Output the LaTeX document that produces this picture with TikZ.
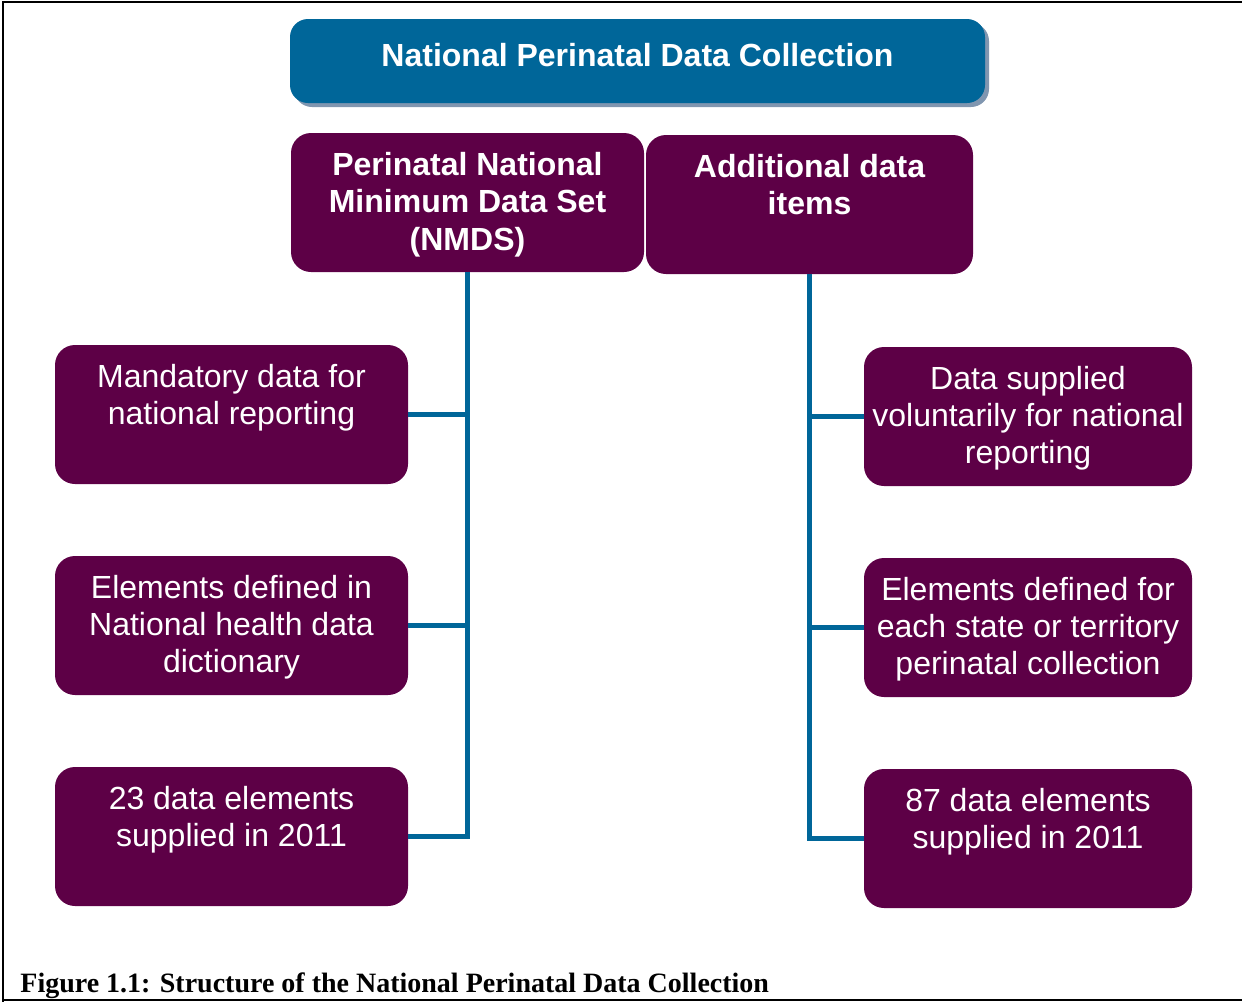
\documentclass[tikz,border=0pt]{standalone}
\usepackage{fontspec}
\setmainfont{Liberation Sans}
\newfontfamily\capfont{Liberation Serif}
\usetikzlibrary{positioning,shadows}
\definecolor{plum}{RGB}{93,0,70}
\definecolor{ndcblue}{RGB}{0,102,153}
\definecolor{shadowblue}{RGB}{128,150,176}

\begin{document}
\begin{tikzpicture}[x=0.5pt,y=-0.5pt,line join=miter,
  every node/.style={inner sep=0pt,text=white,align=center},
  box/.style={fill=plum,rounded corners=10pt,minimum height=69.5pt},
  leftbox/.style={box,minimum width=176.5pt},
  rightbox/.style={box,minimum width=164pt},
  link/.style={draw=ndcblue,line width=2.5pt},
  lbl/.style={font=\fontsize{16}{18.6}\selectfont},
  hd/.style={font=\fontsize{16}{18.75}\selectfont\bfseries}]
  \useasboundingbox (0,0) rectangle (1242,1002);
  % 外框
  \draw[line width=0.7pt] (1242,2) -- (3,2) -- (3,1002);
  \draw[line width=0.7pt] (3,1000) -- (1242,1000);
  % 顶部标题
  \node[fill=ndcblue,rounded corners=9pt,minimum width=347.5pt,minimum height=42pt,
    text depth=6pt,hd,drop shadow={shadow xshift=2pt,shadow yshift=-2pt,fill=shadowblue,opacity=1}]
    (ndc) at (637.5,61) {National Perinatal Data Collection};
  % 第二层
  \node[box,minimum width=176.5pt] (nmds) at (467.5,202.5) {};
  \node[hd,below=9.5pt of nmds.north] (nmdstxt) {Perinatal National\\Minimum Data Set\\(NMDS)};
  \node[box,minimum width=163.5pt] (extra) at (809.5,204.5) {};
  \node[hd,below=9.5pt of extra.north] (extratxt) {Additional data\\items};
  % 左列
  \node[leftbox] (left1) at (231.5,414.5) {};
  \node[lbl,below=9.5pt of left1.north] (left1txt) {Mandatory data for\\national reporting};
  \node[leftbox] (left2) at (231.5,625.5) {};
  \node[lbl,below=9.5pt of left2.north] (left2txt) {Elements defined in\\National health data\\dictionary};
  \node[leftbox] (left3) at (231.5,836.5) {};
  \node[lbl,below=9.5pt of left3.north] (left3txt) {23 data elements\\supplied in 2011};
  % 右列
  \node[rightbox] (right1) at (1028,416.5) {};
  \node[lbl,below=9.5pt of right1.north] (right1txt) {Data supplied\\voluntarily for national\\reporting};
  \node[rightbox] (right2) at (1028,627.5) {};
  \node[lbl,below=9.5pt of right2.north] (right2txt) {Elements defined for\\each state or territory\\perinatal collection};
  \node[rightbox] (right3) at (1028,838.5) {};
  \node[lbl,below=9.5pt of right3.north] (right3txt) {87 data elements\\supplied in 2011};
  % 连线
  \draw[link] (nmds.south) -- (nmds.south |- left3.east) -- (left3.east);
  \draw[link] (left1.east) -- (left1.east -| nmds.south);
  \draw[link] (left2.east) -- (left2.east -| nmds.south);
  \draw[link] (extra.south) -- (extra.south |- right3.west) -- (right3.west);
  \draw[link] (right1.west) -- (right1.west -| extra.south);
  \draw[link] (right2.west) -- (right2.west -| extra.south);
  % 图题
  \node[anchor=base west,text=black,font=\capfont\fontsize{14}{16}\selectfont\bfseries]
    (cap) at (20,992) {Figure 1.1: Structure of the National Perinatal Data Collection};
\end{tikzpicture}
\end{document}
